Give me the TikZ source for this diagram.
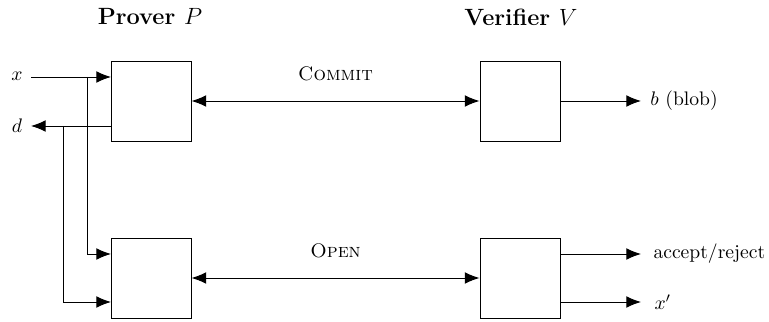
\documentclass[tikz,border=0pt]{standalone}
\usetikzlibrary{arrows.meta}
\begin{document}
\begin{tikzpicture}[x=0.51pt,y=-0.51pt,
  blk/.style={draw,minimum width=40.8pt,minimum height=40.8pt,inner sep=0pt},
  arr/.style={-{Latex[length=7.5pt,width=6pt]}},
  darr/.style={{Latex[length=7.5pt,width=6pt]}-{Latex[length=7.5pt,width=6pt]}},
  lbl/.style={inner sep=0pt},
  ttl/.style={font=\large\bfseries},
  every path/.style={line width=0.5pt}]
\useasboundingbox (0,0) rectangle (769,322);
\node[blk] (P1) at (151,101) {};
\node[blk] (P2) at (151,278) {};
\node[blk] (V1) at (520,101) {};
\node[blk] (V2) at (520,278) {};
\node[ttl] (tp) at (150,17) {Prover \mdseries$P$};
\node[ttl] (tv) at (521,17) {Verifier \mdseries$V$};
\node[lbl] (x) at (17,76) {$x$};
\node[lbl] (d) at (17,126) {$d$};
\coordinate (xs) at (31,77);
\coordinate (ds) at (31,126);
\coordinate (j1) at (87,77);
\coordinate (j2) at (63,126);
\coordinate (p1a) at (111,77);
\coordinate (p1b) at (111,126);
\coordinate (p2a) at (111,254);
\coordinate (p2b) at (111,302);
\draw[arr] (xs) -- (p1a);
\draw[arr] (p1b) -- (ds);
\draw[arr] (j1) |- (p2a);
\draw[arr] (j2) |- (p2b);
\draw[darr] (P1.east) -- node[above=6.4pt,font=\scshape] (com) {Commit} (V1.west);
\draw[darr] (P2.east) -- node[above=6.4pt,font=\scshape] (opn) {Open} (V2.west);
\node[lbl,anchor=west] (b) at (650,101) {$b$ (blob)};
\node[lbl,anchor=west] (acc) at (653,254) {accept/reject};
\node[lbl,anchor=west] (xp) at (654,302) {$x'$};
\coordinate (v2a) at (560,254);
\coordinate (v2b) at (560,302);
\draw[arr] (V1.east) -- (641,101) coordinate (be);
\draw[arr] (v2a) -- (641,254) coordinate (ae);
\draw[arr] (v2b) -- (641,302) coordinate (xe);
\end{tikzpicture}
\end{document}
